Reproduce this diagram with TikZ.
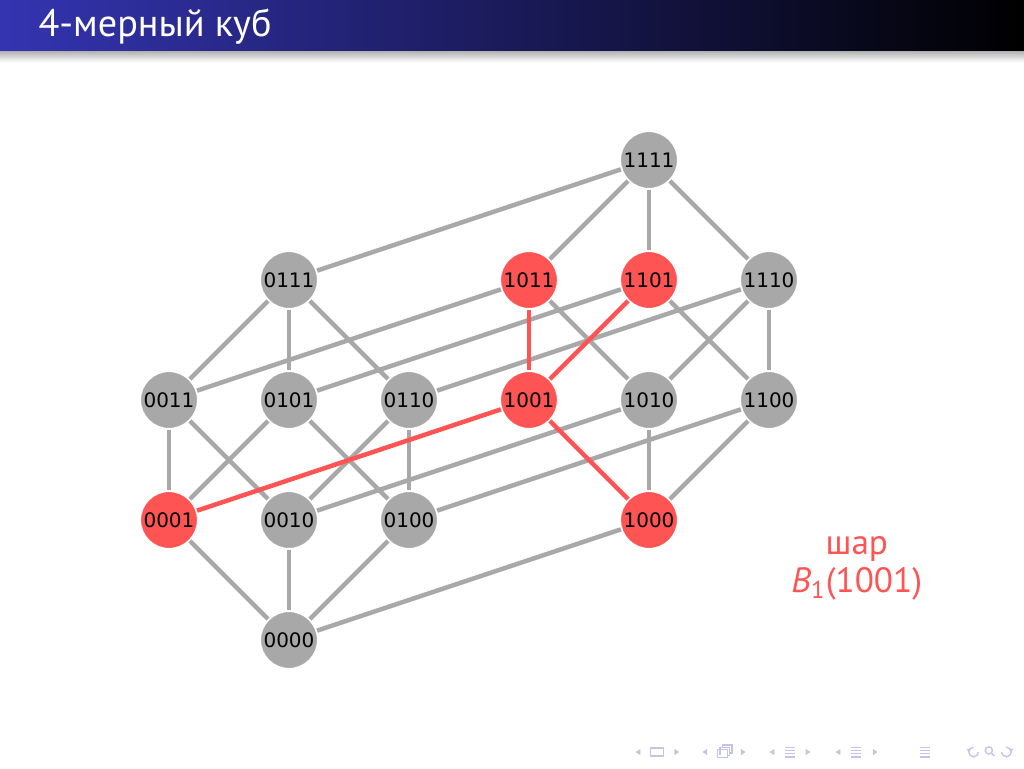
\documentclass[tikz,border=0pt]{standalone}
\usepackage{fontspec}
\setmainfont{PT Sans}
\newfontfamily\labelfont{DejaVu Sans}
\definecolor{edgegray}{RGB}{168,168,168}
\definecolor{ballred}{RGB}{255,84,84}
\definecolor{navcol}{RGB}{196,196,232}
\definecolor{barblue}{RGB}{52,52,178}
\definecolor{barmid}{RGB}{38,38,120}

\tikzset{
  vert/.style={circle, draw=white, line width=0.6pt, fill=edgegray, minimum size=0.72cm,
    inner sep=0pt, font=\labelfont\fontsize{7.1}{8}\selectfont},
  hot/.style={vert, fill=ballred},
  edge/.style={edgegray, line width=1.6pt},
  hotedge/.style={ballred, line width=1.6pt},
  navline/.style={navcol, line width=0.5pt},
  navtip/.style={navcol, fill=navcol}
}

\begin{document}
\begin{tikzpicture}
    \useasboundingbox (0,0) rectangle (12.8,9.6);

    % Title bar
    \shade[left color=barblue, middle color=barmid, right color=black] (0,8.96) rectangle (12.8,9.6);
    \shade[top color=black!30, bottom color=white] (0,8.82) rectangle (12.8,8.96);
    \node[anchor=base west, white, inner sep=0pt, font=\fontsize{13.6}{16}\selectfont] (title) at (0.475,9.15) {4-мерный куб};

    % Vertices of the cube
    \begin{scope}[shift={(2.1125,1.6)}, x=1.5cm, y=1.5cm]
        \node[vert] (v0000) at (1,0) {0000};

        \node[hot]  (v0001) at (0,1) {0001};
        \node[vert] (v0010) at (1,1) {0010};
        \node[vert] (v0100) at (2,1) {0100};
        \node[hot]  (v1000) at (4,1) {1000};

        \node[vert] (v0011) at (0,2) {0011};
        \node[vert] (v0101) at (1,2) {0101};
        \node[vert] (v0110) at (2,2) {0110};
        \node[hot]  (v1001) at (3,2) {1001};
        \node[vert] (v1010) at (4,2) {1010};
        \node[vert] (v1100) at (5,2) {1100};

        \node[vert] (v0111) at (1,3) {0111};
        \node[hot]  (v1011) at (3,3) {1011};
        \node[hot]  (v1101) at (4,3) {1101};
        \node[vert] (v1110) at (5,3) {1110};

        \node[vert] (v1111) at (4,4) {1111};
    \end{scope}

    % Edges
    \foreach \a/\b in {0000/0001, 0000/0010, 0000/0100, 0000/1000,
                       0001/0011, 0001/0101, 0010/0011, 0010/0110, 0010/1010,
                       0100/0101, 0100/0110, 0100/1100, 1000/1010, 1000/1100,
                       0011/0111, 0011/1011, 0101/0111, 0101/1101, 0110/0111, 0110/1110,
                       1010/1011, 1010/1110, 1100/1101, 1100/1110,
                       0111/1111, 1011/1111, 1101/1111, 1110/1111}
        \draw[edge] (v\a) -- (v\b);

    % The ball
    \foreach \b in {0001, 1000, 1011, 1101}
        \draw[hotedge] (v1001) -- (v\b);

    \node[ballred, align=center, font=\fontsize{12.5}{13.6}\selectfont] (ball) at (10.71,2.5)
        {шар\\{\itshape B}\textsubscript{1}(1001)};

    % Navigation symbols
    \foreach \x in {7.975, 8.81, 9.65, 10.475}
        \fill[navtip] (\x+0.03,0.24) -- (\x-0.03,0.2) -- (\x+0.03,0.16) -- cycle;
    \foreach \x in {8.46, 9.29, 10.1, 10.94}
        \fill[navtip] (\x-0.03,0.24) -- (\x+0.03,0.2) -- (\x-0.03,0.16) -- cycle;
    \draw[navline] (8.13,0.15) rectangle (8.29,0.25);
    \draw[navline] (8.97,0.13) rectangle (9.09,0.23);
    \draw[navline] (9.00,0.16) -- (9.00,0.26) -- (9.12,0.26) -- (9.12,0.16) -- (9.09,0.16);
    \draw[navline] (9.03,0.26) -- (9.03,0.29) -- (9.15,0.29) -- (9.15,0.19) -- (9.12,0.19);
    \foreach \x in {9.875, 10.7, 11.56}
        \foreach \y in {0.14, 0.18, 0.22, 0.26}
            \draw[navline] (\x-0.06,\y) -- (\x+0.06,\y);
    \draw[navline] (12.23,0.2) arc (0:-270:0.06);
    \fill[navtip] (12.11,0.2) -- (12.08,0.24) -- (12.14,0.24) -- cycle;
    \draw[navline] (12.36,0.22) circle (0.045) (12.39,0.19) -- (12.43,0.15);
    \draw[navline] (12.52,0.2) arc (180:450:0.06);
    \fill[navtip] (12.64,0.2) -- (12.61,0.24) -- (12.67,0.24) -- cycle;
\end{tikzpicture}
\end{document}
